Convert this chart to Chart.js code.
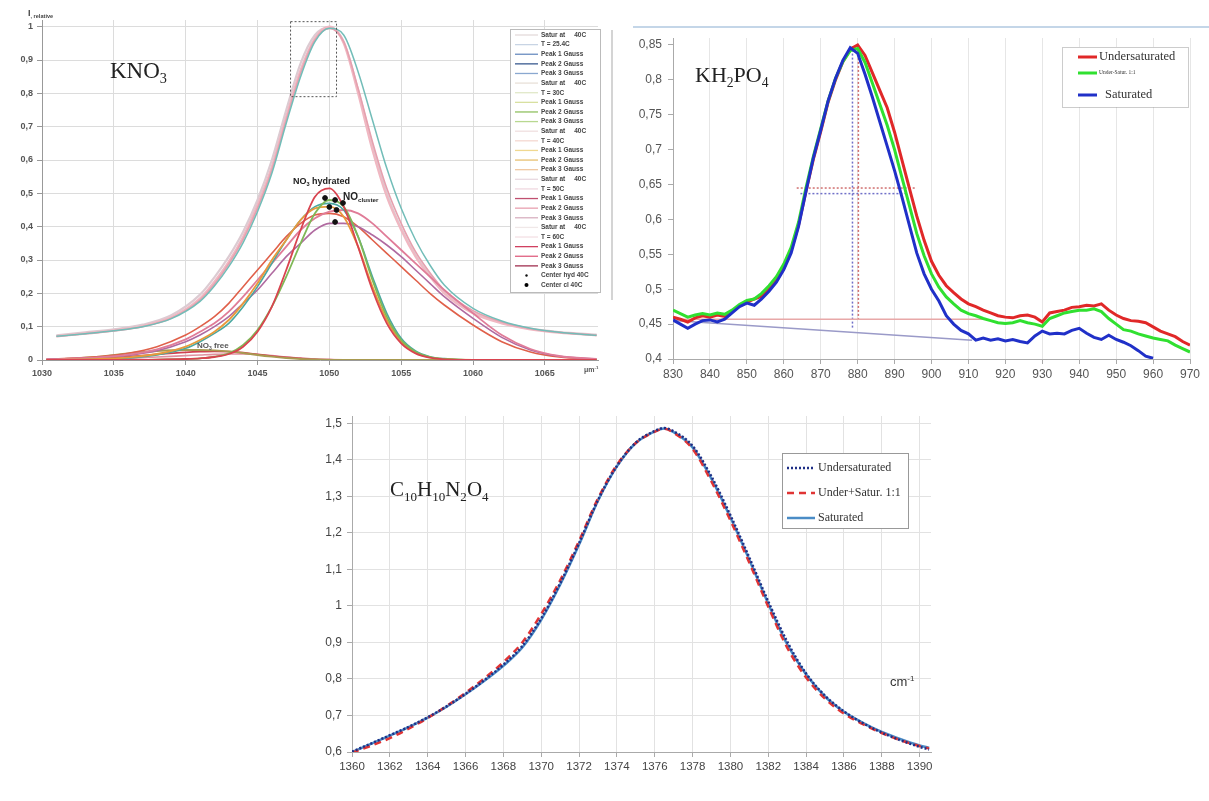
<!DOCTYPE html>
<html>
<head>
<meta charset="utf-8">
<title>Raman spectra</title>
<script src="https://cdn.jsdelivr.net/npm/chart.js@4.4.1/dist/chart.umd.min.js"></script>
<style>
  html, body { margin: 0; padding: 0; background: #fff; }
  body { width: 1209px; height: 801px; position: relative; overflow: hidden; }
  canvas { position: absolute; }
</style>
</head>
<body>
<canvas id="chartKNO3" width="610" height="395" style="left:0;top:0"></canvas>
<canvas id="chartKH2PO4" width="599" height="395" style="left:610px;top:0"></canvas>
<canvas id="chartC10" width="660" height="406" style="left:295px;top:395px"></canvas>
<script>
// ---- KNO3 panel data ----
const knoMainX = [1031, 1033, 1035, 1037, 1039, 1041, 1042, 1043, 1044, 1045, 1046, 1047, 1048, 1049, 1050, 1051, 1052, 1053, 1054, 1055, 1056, 1057, 1058, 1060, 1062, 1064, 1066, 1068.6];
const mainPale = [0.074, 0.083, 0.092, 0.106, 0.134, 0.196, 0.248, 0.31, 0.385, 0.48, 0.6, 0.75, 0.89, 0.975, 0.998, 0.955, 0.81, 0.645, 0.5, 0.395, 0.315, 0.255, 0.205, 0.145, 0.113, 0.094, 0.084, 0.076];
const mainPink = [0.072, 0.08, 0.089, 0.102, 0.128, 0.185, 0.235, 0.295, 0.37, 0.465, 0.58, 0.73, 0.87, 0.965, 1.0, 0.95, 0.8, 0.63, 0.49, 0.39, 0.31, 0.25, 0.2, 0.14, 0.11, 0.092, 0.082, 0.074];
const mainRose = [0.07, 0.078, 0.087, 0.1, 0.125, 0.18, 0.228, 0.288, 0.362, 0.455, 0.57, 0.72, 0.86, 0.96, 0.995, 0.955, 0.815, 0.655, 0.515, 0.41, 0.325, 0.262, 0.21, 0.148, 0.114, 0.094, 0.083, 0.074];
const mainTeal = [0.071, 0.079, 0.088, 0.1, 0.124, 0.176, 0.222, 0.28, 0.352, 0.445, 0.56, 0.71, 0.85, 0.955, 0.995, 0.975, 0.865, 0.72, 0.575, 0.455, 0.36, 0.285, 0.225, 0.155, 0.117, 0.095, 0.083, 0.074];

const compX = [1030.3, 1034, 1036, 1038, 1040, 1041, 1042, 1043, 1044, 1045, 1046, 1047, 1048, 1049, 1050, 1051, 1052, 1053, 1054, 1055, 1056, 1057, 1058, 1060, 1062, 1064, 1066, 1068.6];
const narrowRed = [0, 0, 0, 0.001, 0.003, 0.005, 0.009, 0.018, 0.04, 0.085, 0.16, 0.27, 0.39, 0.49, 0.515, 0.46, 0.34, 0.21, 0.11, 0.05, 0.02, 0.007, 0.002, 0, 0, 0, 0, 0];
const narrowGreen = [0, 0, 0, 0.001, 0.003, 0.005, 0.01, 0.02, 0.045, 0.09, 0.16, 0.25, 0.35, 0.44, 0.48, 0.46, 0.37, 0.24, 0.13, 0.06, 0.025, 0.009, 0.003, 0, 0, 0, 0, 0];
const midOrange = [0, 0.003, 0.008, 0.018, 0.04, 0.06, 0.085, 0.12, 0.17, 0.23, 0.3, 0.36, 0.42, 0.455, 0.46, 0.43, 0.34, 0.22, 0.12, 0.055, 0.022, 0.008, 0.003, 0, 0, 0, 0, 0];
const midTeal = [0, 0.002, 0.006, 0.015, 0.035, 0.055, 0.08, 0.11, 0.16, 0.22, 0.29, 0.36, 0.42, 0.46, 0.47, 0.45, 0.37, 0.25, 0.14, 0.065, 0.027, 0.01, 0.004, 0, 0, 0, 0, 0];
const broadPink = [0.002, 0.008, 0.016, 0.032, 0.062, 0.085, 0.11, 0.145, 0.19, 0.24, 0.29, 0.34, 0.39, 0.425, 0.445, 0.45, 0.44, 0.41, 0.37, 0.33, 0.29, 0.25, 0.21, 0.14, 0.075, 0.033, 0.012, 0.003];
const broadPurple = [0.002, 0.007, 0.014, 0.028, 0.055, 0.075, 0.1, 0.13, 0.17, 0.21, 0.26, 0.31, 0.35, 0.39, 0.41, 0.41, 0.4, 0.375, 0.345, 0.31, 0.27, 0.23, 0.19, 0.125, 0.068, 0.03, 0.011, 0.003];
const broadRed = [0.002, 0.01, 0.02, 0.04, 0.075, 0.1, 0.13, 0.17, 0.22, 0.27, 0.32, 0.37, 0.41, 0.435, 0.44, 0.43, 0.4, 0.36, 0.32, 0.28, 0.24, 0.2, 0.165, 0.105, 0.055, 0.024, 0.009, 0.002];
const freeOlive = [0, 0.01, 0.02, 0.027, 0.03, 0.03, 0.029, 0.026, 0.021, 0.015, 0.01, 0.006, 0.003, 0.0015, 0.0005, 0, 0, 0, 0, 0, 0, 0, 0, 0, 0, 0, 0, 0];
const freeRed = [0, 0.004, 0.01, 0.017, 0.023, 0.025, 0.026, 0.025, 0.022, 0.017, 0.012, 0.008, 0.005, 0.002, 0.001, 0, 0, 0, 0, 0, 0, 0, 0, 0, 0, 0, 0, 0];
const freePink = [0, 0.002, 0.005, 0.009, 0.013, 0.015, 0.017, 0.018, 0.018, 0.016, 0.013, 0.009, 0.006, 0.003, 0.0015, 0.0005, 0, 0, 0, 0, 0, 0, 0, 0, 0, 0, 0, 0];

const centerX = [1049.7, 1050.4, 1050.95, 1050.0, 1050.5, 1050.4];
const centerY = [0.486, 0.48, 0.471, 0.459, 0.45, 0.414];
const zoomBoxX = [1047.3, 1050.5, 1050.5, 1047.3, 1047.3];
const zoomBoxY = [1.015, 1.015, 0.79, 0.79, 1.015];

const knoXTicks = [1030, 1035, 1040, 1045, 1050, 1055, 1060, 1065];
const knoYTicks = [0, 0.1, 0.2, 0.3, 0.4, 0.5, 0.6, 0.7, 0.8, 0.9, 1];

const knoLegendLabels = [
  'Satur at     40C', 'T = 25.4C', 'Peak 1 Gauss', 'Peak 2 Gauss', 'Peak 3 Gauss',
  'Satur at     40C', 'T = 30C', 'Peak 1 Gauss', 'Peak 2 Gauss', 'Peak 3 Gauss',
  'Satur at     40C', 'T = 40C', 'Peak 1 Gauss', 'Peak 2 Gauss', 'Peak 3 Gauss',
  'Satur at     40C', 'T = 50C', 'Peak 1 Gauss', 'Peak 2 Gauss', 'Peak 3 Gauss',
  'Satur at     40C', 'T = 60C', 'Peak 1 Gauss', 'Peak 2 Gauss', 'Peak 3 Gauss',
  'Center hyd 40C', 'Center cl 40C'
];
const knoLegendColors = [
  '#e4dada', '#c8d4e4', '#6a8cc0', '#3a5a90', '#8aa8d0',
  '#e8e0d8', '#e0e8c8', '#d8e0a0', '#90c060', '#b8d890',
  '#f0e0e0', '#f4d8d0', '#f0d890', '#e8c070', '#f0c8a0',
  '#e8d8e0', '#f0d8e0', '#c05070', '#e8a0b0', '#d8b0c0',
  '#f0e8e8', '#f4e0e4', '#d04060', '#e06080', '#a03050',
  '#111', '#000'
];

// ---- KH2PO4 panel data ----
const khX = [830, 832, 834, 836, 838, 840, 842, 844, 846, 848, 850, 852, 854, 856, 858, 860, 862, 864, 866, 868, 870, 872, 874, 876, 878, 880, 882, 884, 886, 888, 890, 892, 894, 896, 898, 900, 902, 904, 906, 908, 910, 912, 914, 916, 918, 920, 922, 924, 926, 928, 930, 932, 934, 936, 938, 940, 942, 944, 946, 948, 950, 952, 954, 956, 958, 960, 962, 964, 966, 968, 970];
const khUnder = [0.46, 0.457, 0.453, 0.459, 0.462, 0.46, 0.463, 0.461, 0.468, 0.476, 0.481, 0.486, 0.49, 0.5, 0.512, 0.53, 0.556, 0.592, 0.64, 0.686, 0.726, 0.768, 0.8, 0.826, 0.844, 0.85, 0.835, 0.81, 0.785, 0.76, 0.725, 0.685, 0.645, 0.605, 0.57, 0.54, 0.52, 0.505, 0.495, 0.486, 0.479, 0.475, 0.47, 0.466, 0.462, 0.46, 0.459, 0.462, 0.463, 0.46, 0.453, 0.466, 0.468, 0.47, 0.474, 0.475, 0.477, 0.476, 0.479, 0.47, 0.463, 0.458, 0.455, 0.454, 0.452, 0.446, 0.44, 0.436, 0.432, 0.425, 0.42];
const khMix = [0.47, 0.465, 0.46, 0.463, 0.465, 0.463, 0.466, 0.464, 0.47, 0.478, 0.484, 0.486, 0.494, 0.505, 0.518, 0.536, 0.56, 0.596, 0.645, 0.69, 0.73, 0.77, 0.802, 0.826, 0.842, 0.845, 0.825, 0.795, 0.765, 0.735, 0.7, 0.66, 0.62, 0.58, 0.548, 0.522, 0.503, 0.489, 0.479, 0.47, 0.465, 0.462, 0.458, 0.455, 0.452, 0.451, 0.452, 0.455, 0.452, 0.45, 0.447, 0.458, 0.462, 0.466, 0.468, 0.47, 0.47, 0.472, 0.468, 0.458, 0.45, 0.442, 0.44, 0.436, 0.433, 0.43, 0.428, 0.426, 0.42, 0.415, 0.41];
const khSat = [0.456, 0.45, 0.444, 0.45, 0.455, 0.456, 0.453, 0.457, 0.466, 0.475, 0.48, 0.477, 0.486, 0.497, 0.51, 0.528, 0.552, 0.59, 0.64, 0.688, 0.728, 0.77, 0.802, 0.828, 0.846, 0.838, 0.808, 0.775, 0.74, 0.705, 0.67, 0.632, 0.592, 0.552, 0.522, 0.5, 0.483, 0.462, 0.45, 0.441, 0.436, 0.427, 0.43, 0.427, 0.429, 0.426, 0.428, 0.425, 0.423, 0.433, 0.44, 0.436, 0.437, 0.436, 0.441, 0.444, 0.437, 0.431, 0.428, 0.434, 0.428, 0.424, 0.419, 0.412, 0.404, 0.401, null, null, null, null, null];

const redBaseX = [830, 914.6];
const redBaseY = [0.457, 0.457];
const blueBaseX = [830, 911];
const blueBaseY = [0.455, 0.427];
const redMarkX = [880.2, 880.2];
const redMarkY = [0.456, 0.85];
const blueMarkX = [878.6, 878.6];
const blueMarkY = [0.445, 0.848];
const redHalfX = [863.5, 896];
const redHalfY = [0.645, 0.645];
const blueHalfX = [864.5, 893];
const blueHalfY = [0.637, 0.637];

const khXTicks = [830, 840, 850, 860, 870, 880, 890, 900, 910, 920, 930, 940, 950, 960, 970];
const khYTicks = [0.4, 0.45, 0.5, 0.55, 0.6, 0.65, 0.7, 0.75, 0.8, 0.85];

// ---- C10H10N2O4 panel data ----
const cX = [1360, 1361, 1362, 1363, 1364, 1365, 1366, 1367, 1368, 1369, 1370, 1371, 1372, 1373, 1374, 1375, 1376, 1376.5, 1377, 1378, 1379, 1380, 1381, 1382, 1383, 1384, 1385, 1386, 1387, 1388, 1389, 1390, 1390.5];
const cUnder = [0.601, 0.623, 0.646, 0.669, 0.695, 0.725, 0.759, 0.797, 0.839, 0.89, 0.966, 1.062, 1.172, 1.29, 1.383, 1.447, 1.479, 1.487, 1.478, 1.438, 1.354, 1.248, 1.132, 1.012, 0.902, 0.815, 0.754, 0.711, 0.679, 0.653, 0.632, 0.614, 0.607];
const cMix = [0.598, 0.617, 0.638, 0.664, 0.693, 0.726, 0.762, 0.802, 0.846, 0.9, 0.978, 1.07, 1.178, 1.294, 1.386, 1.446, 1.477, 1.485, 1.474, 1.43, 1.34, 1.234, 1.118, 0.998, 0.886, 0.804, 0.746, 0.705, 0.676, 0.652, 0.632, 0.616, 0.61];
const cSat = [0.6, 0.622, 0.645, 0.668, 0.694, 0.724, 0.758, 0.795, 0.836, 0.886, 0.962, 1.058, 1.168, 1.288, 1.382, 1.446, 1.478, 1.486, 1.476, 1.434, 1.348, 1.242, 1.126, 1.006, 0.895, 0.812, 0.752, 0.71, 0.68, 0.655, 0.635, 0.618, 0.612];

const cXTicks = [1360, 1362, 1364, 1366, 1368, 1370, 1372, 1374, 1376, 1378, 1380, 1382, 1384, 1386, 1388, 1390];
const cYTicks = [0.6, 0.7, 0.8, 0.9, 1, 1.1, 1.2, 1.3, 1.4, 1.5];

// ---- helpers ----
const SANS = '"Liberation Sans", Arial, sans-serif';
const SERIF = '"Liberation Serif", "Times New Roman", serif';
Chart.defaults.font.family = SANS;

function pts(xs, ys) { return xs.map((x, i) => ({ x, y: ys[i] })); }
function comma(v) { return String(Math.round(v * 100) / 100).replace('.', ','); }
function plain(v) { return String(v); }
function fixTicks(values) { return scale => { scale.ticks = values.map(v => ({ value: v })); }; }

function line(label, xs, ys, color, width, extra = {}) {
    return Object.assign({
        label, data: pts(xs, ys), borderColor: color, backgroundColor: color,
        borderWidth: width, pointRadius: 0, fill: false, spanGaps: false
    }, extra);
}

function drawRich(ctx, t) {
    let x = t.x;
    ctx.save();
    ctx.fillStyle = t.color || '#222';
    ctx.textAlign = 'left';
    ctx.textBaseline = 'alphabetic';
    t.parts.forEach(([s, kind]) => {
        const size = kind ? t.size * 0.62 : t.size;
        const dy = kind === 'sub' ? t.size * 0.22 : kind === 'sup' ? -t.size * 0.42 : 0;
        ctx.font = `${t.weight || 'normal'} ${size}px ${t.family || SANS}`;
        ctx.fillText(s, x, t.y + dy);
        x += ctx.measureText(s).width;
    });
    ctx.restore();
}

function drawLegend(ctx, L) {
    ctx.save();
    ctx.fillStyle = '#fff';
    ctx.fillRect(L.x, L.y, L.w, L.h);
    ctx.strokeStyle = L.border;
    ctx.lineWidth = 1;
    ctx.setLineDash(L.borderDash || []);
    ctx.strokeRect(L.x + 0.5, L.y + 0.5, L.w, L.h);
    L.rows.forEach(r => {
        ctx.setLineDash(r.dash || []);
        if (r.dot) {
            ctx.fillStyle = r.color;
            ctx.beginPath();
            ctx.arc((L.x0 + L.x1) / 2, r.y, r.dot, 0, Math.PI * 2);
            ctx.fill();
        } else if (r.color) {
            ctx.strokeStyle = r.color;
            ctx.lineWidth = r.width || 1.5;
            ctx.beginPath();
            ctx.moveTo(L.x0, r.y);
            ctx.lineTo(L.x1, r.y);
            ctx.stroke();
        }
        ctx.fillStyle = L.textColor || '#333';
        ctx.font = r.font || L.font;
        ctx.textBaseline = 'middle';
        ctx.fillText(r.text, L.textX + (r.indent || 0), r.y);
    });
    ctx.restore();
}

function decor(cfg) {
    return {
        id: 'decor',
        afterDatasetsDraw(chart) {
            const ctx = chart.ctx;
            (cfg.frame || []).forEach(f => {
                ctx.save();
                ctx.strokeStyle = f.color;
                ctx.lineWidth = f.width;
                ctx.beginPath();
                ctx.moveTo(f.x0, f.y0);
                ctx.lineTo(f.x1, f.y1);
                ctx.stroke();
                ctx.restore();
            });
            (cfg.texts || []).forEach(t => drawRich(ctx, t));
            if (cfg.legend) drawLegend(ctx, cfg.legend);
        }
    };
}

// ---- 1. KNO3 ----
new Chart(document.getElementById('chartKNO3'), {
    type: 'line',
    data: {
        datasets: [
            { type: 'scatter', label: 'Center', data: pts(centerX, centerY), pointRadius: 2.4, backgroundColor: '#111', borderColor: '#111' },
            line('zoom', zoomBoxX, zoomBoxY, '#555', 1, { borderDash: [2, 2] }),
            line('Peak 2 Gauss 60C', compX, narrowRed, '#d9434f', 1.8, { cubicInterpolationMode: 'monotone' }),
            line('Peak 2 Gauss 30C', compX, narrowGreen, '#7fb857', 1.8, { cubicInterpolationMode: 'monotone' }),
            line('Peak 2 Gauss 40C', compX, midOrange, '#e89a3c', 1.8, { cubicInterpolationMode: 'monotone' }),
            line('Peak 2 Gauss 25C', compX, midTeal, '#4aa8a0', 1.6, { cubicInterpolationMode: 'monotone' }),
            line('Peak 3 Gauss 50C', compX, broadPink, '#e07c98', 1.8, { cubicInterpolationMode: 'monotone' }),
            line('Peak 3 Gauss 60C', compX, broadPurple, '#b06aa0', 1.6, { cubicInterpolationMode: 'monotone' }),
            line('Peak 3 Gauss 40C', compX, broadRed, '#e0604a', 1.6, { cubicInterpolationMode: 'monotone' }),
            line('Peak 1 Gauss 40C', compX, freeOlive, '#a89a50', 1.8, { cubicInterpolationMode: 'monotone' }),
            line('Peak 1 Gauss 60C', compX, freeRed, '#d04050', 1.6, { cubicInterpolationMode: 'monotone' }),
            line('Peak 1 Gauss 50C', compX, freePink, '#e090a0', 1.6, { cubicInterpolationMode: 'monotone' }),
            line('T = 25.4C', knoMainX, mainTeal, '#72bdb8', 1.5, { cubicInterpolationMode: 'monotone' }),
            line('T = 50C', knoMainX, mainRose, '#e6a0ae', 1.6, { cubicInterpolationMode: 'monotone' }),
            line('T = 40C', knoMainX, mainPink, '#f0b8c2', 2.2, { cubicInterpolationMode: 'monotone' }),
            line('T = 30C', knoMainX, mainPale, '#dccbd2', 2.2, { cubicInterpolationMode: 'monotone' })
        ]
    },
    options: {
        responsive: false,
        animation: false,
        layout: { padding: { top: 20, right: 12, left: 0, bottom: 0 } },
        plugins: { legend: { display: false }, tooltip: { enabled: false } },
        scales: {
            x: {
                type: 'linear', min: 1030, max: 1068.7,
                afterBuildTicks: fixTicks(knoXTicks),
                afterFit: s => { s.height = 35; },
                grid: { color: '#dcdcdc', tickLength: 5, tickColor: '#999' },
                border: { color: '#999' },
                ticks: { font: { size: 9, weight: 'bold' }, color: '#555', padding: 3, maxRotation: 0, callback: plain }
            },
            y: {
                min: 0, max: 1.02,
                afterBuildTicks: fixTicks(knoYTicks),
                afterFit: s => { s.width = 42; },
                grid: { color: '#dcdcdc', tickLength: 5, tickColor: '#999' },
                border: { color: '#999' },
                ticks: { font: { size: 9, weight: 'bold' }, color: '#555', padding: 4, callback: comma }
            }
        }
    },
    plugins: [decor({
        texts: [
            { x: 28, y: 16, size: 9, weight: 'bold', color: '#444', parts: [['I', ''], [', relative', 'sub']] },
            { x: 110, y: 78, size: 23, family: SERIF, color: '#222', parts: [['KNO', ''], ['3', 'sub']] },
            { x: 293, y: 184, size: 9, weight: 'bold', color: '#222', parts: [['NO', ''], ['3', 'sub'], [' hydrated', '']] },
            { x: 343, y: 200, size: 10, weight: 'bold', color: '#222', parts: [['NO', ''], ['cluster', 'sub']] },
            { x: 197, y: 348, size: 8, weight: 'bold', color: '#555', parts: [['NO', ''], ['3', 'sub'], [' free', '']] },
            { x: 584, y: 372, size: 7, weight: 'bold', color: '#555', parts: [['μm', ''], ['-1', 'sup']] }
        ],
        legend: {
            x: 510, y: 29, w: 90, h: 263, border: '#bbb', textColor: '#444',
            x0: 515, x1: 538, textX: 541, font: `bold 6.5px ${SANS}`,
            rows: knoLegendLabels.map((text, i) => ({
                text, y: 35 + i * 9.62, color: knoLegendColors[i], width: 1.3,
                dot: i === 25 ? 1.2 : i === 26 ? 2 : 0
            }))
        }
    })]
});

// ---- 2. KH2PO4 ----
new Chart(document.getElementById('chartKH2PO4'), {
    type: 'line',
    data: {
        datasets: [
            line('Saturated', khX, khSat, '#2030c8', 3),
            line('Under-Satur. 1:1', khX, khMix, '#30e030', 3),
            line('Undersaturated', khX, khUnder, '#e02828', 3),
            line('red baseline', redBaseX, redBaseY, '#e8a8a8', 1.5),
            line('blue baseline', blueBaseX, blueBaseY, '#9a9ac8', 1.5),
            line('red centre', redMarkX, redMarkY, '#d07070', 1.5, { borderDash: [2, 2] }),
            line('blue centre', blueMarkX, blueMarkY, '#7070c8', 1.5, { borderDash: [2, 2] }),
            line('red width', redHalfX, redHalfY, '#d07070', 1.5, { borderDash: [2, 2] }),
            line('blue width', blueHalfX, blueHalfY, '#7070c8', 1.5, { borderDash: [2, 2] })
        ]
    },
    options: {
        responsive: false,
        animation: false,
        layout: { padding: { top: 38, right: 19, left: 0, bottom: 0 } },
        plugins: { legend: { display: false }, tooltip: { enabled: false } },
        scales: {
            x: {
                type: 'linear', min: 830, max: 970,
                afterBuildTicks: fixTicks(khXTicks),
                afterFit: s => { s.height = 36; },
                grid: { color: '#e6e6e6', tickLength: 5, tickColor: '#aaa' },
                border: { color: '#aaa' },
                ticks: { font: { size: 12 }, color: '#555', padding: 3, maxRotation: 0, callback: plain }
            },
            y: {
                min: 0.4, max: 0.86,
                afterBuildTicks: fixTicks(khYTicks),
                afterFit: s => { s.width = 63; },
                grid: { drawOnChartArea: false, tickLength: 5, tickColor: '#aaa' },
                border: { color: '#aaa' },
                ticks: { font: { size: 12 }, color: '#555', padding: 6, callback: comma }
            }
        }
    },
    plugins: [decor({
        frame: [
            { x0: 23, y0: 27, x1: 599, y1: 27, color: '#c4d6e8', width: 2 },
            { x0: 2, y0: 30, x1: 2, y1: 300, color: '#d4d4d4', width: 2 }
        ],
        texts: [
            { x: 85, y: 82, size: 22, family: SERIF, color: '#222', parts: [['KH', ''], ['2', 'sub'], ['PO', ''], ['4', 'sub']] }
        ],
        legend: {
            x: 452, y: 47, w: 126, h: 60, border: '#999', borderDash: [1, 1], textColor: '#333',
            x0: 468, x1: 487, textX: 489, font: `12.5px ${SERIF}`,
            rows: [
                { text: 'Undersaturated', y: 57, color: '#e02828', width: 3 },
                { text: 'Under-Satur. 1:1', y: 73, color: '#30e030', width: 3, font: `5.5px ${SERIF}` },
                { text: 'Saturated', y: 95, color: '#2030c8', width: 3, indent: 6 }
            ]
        }
    })]
});

// ---- 3. C10H10N2O4 ----
new Chart(document.getElementById('chartC10'), {
    type: 'line',
    data: {
        datasets: [
            line('Undersaturated', cX, cUnder, '#1f2f86', 2.5, { borderDash: [2, 2], cubicInterpolationMode: 'monotone' }),
            line('Under+Satur. 1:1', cX, cMix, '#e03434', 2.5, { borderDash: [7, 5], cubicInterpolationMode: 'monotone' }),
            line('Saturated', cX, cSat, '#4a8cc6', 2.5, { cubicInterpolationMode: 'monotone' })
        ]
    },
    options: {
        responsive: false,
        animation: false,
        layout: { padding: { top: 21, right: 24, left: 0, bottom: 0 } },
        plugins: { legend: { display: false }, tooltip: { enabled: false } },
        scales: {
            x: {
                type: 'linear', min: 1360, max: 1390.6,
                afterBuildTicks: fixTicks(cXTicks),
                afterFit: s => { s.height = 49; },
                grid: { color: '#e2e2e2', tickLength: 5, tickColor: '#aaa' },
                border: { color: '#aaa' },
                ticks: { font: { size: 11.5 }, color: '#444', padding: 3, maxRotation: 0, callback: plain }
            },
            y: {
                min: 0.6, max: 1.52,
                afterBuildTicks: fixTicks(cYTicks),
                afterFit: s => { s.width = 57; },
                grid: { color: '#e2e2e2', tickLength: 5, tickColor: '#aaa' },
                border: { color: '#aaa' },
                ticks: { font: { size: 12 }, color: '#444', padding: 5, callback: comma }
            }
        }
    },
    plugins: [decor({
        texts: [
            { x: 95, y: 101, size: 21, family: SERIF, color: '#222', parts: [['C', ''], ['10', 'sub'], ['H', ''], ['10', 'sub'], ['N', ''], ['2', 'sub'], ['O', ''], ['4', 'sub']] },
            { x: 595, y: 291, size: 13, color: '#333', parts: [['cm', ''], ['-1', 'sup']] }
        ],
        legend: {
            x: 487, y: 58, w: 126, h: 75, border: '#999', textColor: '#333',
            x0: 492, x1: 520, textX: 523, font: `12px ${SERIF}`,
            rows: [
                { text: 'Undersaturated', y: 73, color: '#1f2f86', width: 2.5, dash: [2, 2] },
                { text: 'Under+Satur. 1:1', y: 98, color: '#e03434', width: 2.5, dash: [7, 5] },
                { text: 'Saturated', y: 123, color: '#4a8cc6', width: 2.5 }
            ]
        }
    })]
});
</script>
</body>
</html>
